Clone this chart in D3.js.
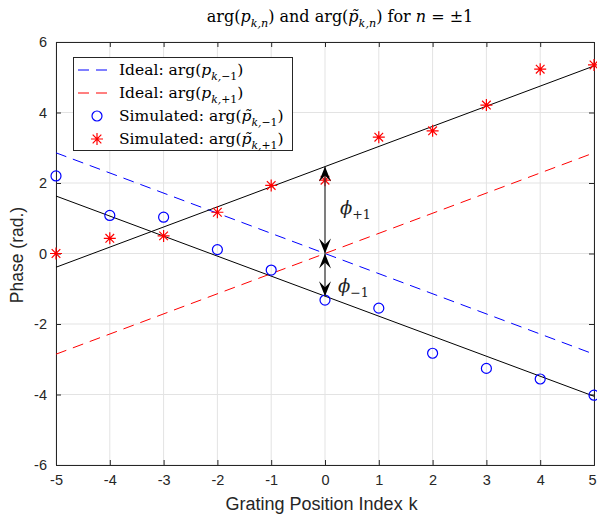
<!DOCTYPE html>
<html><head><meta charset="utf-8">
<script src="https://cdn.jsdelivr.net/npm/d3@7"></script>
<style>body{margin:0;background:#fff}svg{display:block}</style>
</head><body>
<svg id="c" width="597" height="519"></svg>
<script>
// ---- data ----
const kValues = [-5,-4,-3,-2,-1,0,1,2,3,4,5];
const simMinus = [2.20, 1.08, 1.03, 0.11, -0.47, -1.32, -1.55, -2.83, -3.26, -3.56, -4.02];
const simPlus  = [0.00, 0.43, 0.50, 1.17, 1.93, 2.08, 3.30, 3.48, 4.21, 5.23, 5.35];
const lineK = [-5, 5];
const idealMinus = [2.856, -2.856];
const idealPlus  = [-2.856, 2.856];
const fitMinus = [1.63, -4.05];
const fitPlus  = [-0.39, 5.32];
const phiPlusEnd = 2.465;
const phiMinusEnd = -1.21;
const xTicks = [-5,-4,-3,-2,-1,0,1,2,3,4,5];
const yTicks = [-6,-4,-2,0,2,4,6];

const svg = d3.select('#c');
const L = 56, R = 594, T = 42, B = 465;
const x = d3.scaleLinear().domain([-5,5]).range([L,R]);
const y = d3.scaleLinear().domain([-6,6]).range([B,T]);
const axCol = '#262626';
const sans = 'Liberation Sans, Arial, sans-serif';
const serif = 'DejaVu Serif, serif';

// grid
const g = svg.append('g');
g.selectAll('.gx').data(xTicks).join('line')
  .attr('x1',d=>x(d)).attr('x2',d=>x(d)).attr('y1',T).attr('y2',B)
  .attr('stroke','#e3e3e3').attr('stroke-width',1);
g.selectAll('.gy').data(yTicks).join('line')
  .attr('y1',d=>y(d)).attr('y2',d=>y(d)).attr('x1',L).attr('x2',R)
  .attr('stroke','#e3e3e3').attr('stroke-width',1);

// axes
const xAx = svg.append('g').attr('transform',`translate(0,${B})`)
  .call(d3.axisBottom(x).tickValues(xTicks).tickSize(-5).tickPadding(10).tickFormat(d3.format('d')));
const xAxT = svg.append('g').attr('transform',`translate(0,${T})`)
  .call(d3.axisTop(x).tickValues(xTicks).tickSize(-5).tickFormat(''));
const yAx = svg.append('g').attr('transform',`translate(${L},0)`)
  .call(d3.axisLeft(y).tickValues(yTicks).tickSize(-5).tickPadding(9).tickFormat(d3.format('d')));
const yAxR = svg.append('g').attr('transform',`translate(${R},0)`)
  .call(d3.axisRight(y).tickValues(yTicks).tickSize(-5).tickFormat(''));
[xAx,xAxT,yAx,yAxR].forEach(a=>{
  a.select('.domain').attr('stroke',axCol).attr('stroke-width',1);
  a.selectAll('.tick line').attr('stroke',axCol);
  a.selectAll('text').attr('fill',axCol).attr('font-family',sans).attr('font-size',14.5);
});
xAx.selectAll('text').text(d=>d<0?'-'+Math.abs(d):d).attr('dx', d=>d===5?-2:0);
yAx.selectAll('text').text(d=>d<0?'-'+Math.abs(d):d);

// lines
const line = d3.line().x(d=>x(d[0])).y(d=>y(d[1]));
const plotLine = (vals, col, dash) => svg.append('path')
  .attr('d', line(lineK.map((k,i)=>[k, vals[i]])))
  .attr('fill','none').attr('stroke',col).attr('stroke-width',1)
  .attr('stroke-dasharray', dash || null);
plotLine(idealMinus, '#0000ff', '11,7');
plotLine(idealPlus, '#ff0000', '11,7');
plotLine(fitMinus, '#000', null);
plotLine(fitPlus, '#000', null);

// markers
const starPath = (cx, cy, s) => {
  const d = s*0.72;
  return `M${cx-s},${cy}H${cx+s}M${cx},${cy-s}V${cy+s}M${cx-d},${cy-d}L${cx+d},${cy+d}M${cx-d},${cy+d}L${cx+d},${cy-d}`;
};
svg.append('g').selectAll('circle').data(kValues).join('circle')
  .attr('cx',(d)=>x(d)).attr('cy',(d,i)=>y(simMinus[i])).attr('r',5)
  .attr('fill','none').attr('stroke','#0000ff').attr('stroke-width',1.2);
svg.append('g').selectAll('path').data(kValues).join('path')
  .attr('d',(d,i)=>starPath(x(d), y(simPlus[i]), 6))
  .attr('stroke','#ff0000').attr('stroke-width',1.2).attr('fill','none');

// arrows
function head(px, py, dir){ // dir=-1 pointing up, +1 pointing down
  const Lh = 15, W = 6, n = 9;
  return `M${px},${py}L${px+W},${py-dir*Lh}L${px},${py-dir*n}L${px-W},${py-dir*Lh}Z`;
}
const ax0 = x(0);
const arr = svg.append('g');
arr.append('line').attr('x1',ax0).attr('x2',ax0).attr('y1',y(phiPlusEnd)).attr('y2',y(phiMinusEnd))
  .attr('stroke','#333').attr('stroke-width',1.2);
arr.append('path').attr('d', head(ax0, y(phiPlusEnd), -1)).attr('fill','#000');
arr.append('path').attr('d', head(ax0, y(0), 1)).attr('fill','#000');
arr.append('path').attr('d', head(ax0, y(0), -1)).attr('fill','#000');
arr.append('path').attr('d', head(ax0, y(phiMinusEnd), 1)).attr('fill','#000');

// math text helper
function mathText(sel, parts, size){
  let shift = 0;
  parts.forEach(p=>{
    const ts = sel.append('tspan').text(p.t);
    if (p.i) ts.attr('font-style','italic');
    const want = p.sub ? size*0.3 : 0;
    if (want !== shift) { ts.attr('dy', want - shift); shift = want; }
    ts.attr('font-size', p.sub ? size*0.7 : size);
  });
}
const txtCol = '#222';
// phi labels
mathText(svg.append('text').attr('x',340).attr('y',214).attr('font-family',serif).attr('fill',txtCol),
  [{t:'\u03D5',i:true},{t:'+1',sub:true}], 18);
mathText(svg.append('text').attr('x',338).attr('y',292).attr('font-family',serif).attr('fill',txtCol),
  [{t:'\u03D5',i:true},{t:'\u22121',sub:true}], 18);

// title
mathText(svg.append('text').attr('x',340).attr('y',22).attr('text-anchor','middle').attr('font-family',serif).attr('fill','#000'),
  [{t:'arg('},{t:'p',i:true},{t:'k,n',i:true,sub:true},{t:') and arg('},{t:'p\u0303',i:true},{t:'k,n',i:true,sub:true},{t:') for '},{t:'n',i:true},{t:' = \u00B11'}], 16);

// axis labels
const xl = svg.append('text').attr('x',322).attr('y',510).attr('text-anchor','middle').attr('fill',axCol);
xl.append('tspan').attr('font-family',sans).attr('font-size',18).text('Grating Position Index  ');
xl.append('tspan').attr('font-family','Liberation Mono, Courier New, monospace').attr('font-size',18).text('k');
svg.append('text').attr('transform','translate(23,255) rotate(-90)').attr('text-anchor','middle')
  .attr('font-family',sans).attr('font-size',17.5).attr('fill',axCol).text('Phase (rad.)');

// legend
const lg = svg.append('g');
lg.append('rect').attr('x',73.5).attr('y',57.5).attr('width',219).attr('height',93)
  .attr('fill','#fff').attr('stroke',axCol).attr('stroke-width',1);
const legY = [70, 93, 116, 139];
const legItems = [
  {type:'dash', col:'#0000ff', parts:[{t:'Ideal: arg('},{t:'p',i:true},{t:'k,',i:true,sub:true},{t:'\u22121',sub:true},{t:')'}]},
  {type:'dash', col:'#ff0000', parts:[{t:'Ideal: arg('},{t:'p',i:true},{t:'k,',i:true,sub:true},{t:'+1',sub:true},{t:')'}]},
  {type:'circle', col:'#0000ff', parts:[{t:'Simulated: arg('},{t:'p\u0303',i:true},{t:'k,',i:true,sub:true},{t:'\u22121',sub:true},{t:')'}]},
  {type:'star', col:'#ff0000', parts:[{t:'Simulated: arg('},{t:'p\u0303',i:true},{t:'k,',i:true,sub:true},{t:'+1',sub:true},{t:')'}]},
];
legItems.forEach((it,i)=>{
  const yy = legY[i];
  if (it.type==='dash') lg.append('line').attr('x1',78).attr('x2',111).attr('y1',yy).attr('y2',yy)
    .attr('stroke',it.col).attr('stroke-dasharray','11,7');
  if (it.type==='circle') lg.append('circle').attr('cx',97).attr('cy',yy).attr('r',5)
    .attr('fill','none').attr('stroke',it.col).attr('stroke-width',1.2);
  if (it.type==='star') lg.append('path').attr('d',starPath(97,yy,6)).attr('stroke',it.col).attr('stroke-width',1.2);
  mathText(lg.append('text').attr('x',119).attr('y',yy+5).attr('font-family',serif).attr('fill','#000'), it.parts, 15.5);
});
</script>
</body></html>
